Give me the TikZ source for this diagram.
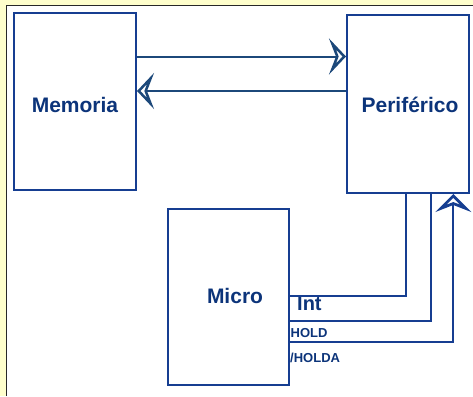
\documentclass[tikz,border=0pt]{standalone}
\usepackage{fontspec}
\setmainfont{Liberation Sans}
\usetikzlibrary{arrows.meta}
\definecolor{boxcol}{RGB}{22,62,145}
\definecolor{arrcol}{RGB}{28,72,122}
\definecolor{txtcol}{RGB}{12,52,122}
\definecolor{bgyel}{RGB}{255,255,204}
\definecolor{framecol}{RGB}{40,40,40}
\tikzset{
  blk/.style={draw=boxcol,line width=2pt,minimum width=#1,inner sep=0pt},
  bigtxt/.style={text=txtcol,font=\fontsize{21}{24}\selectfont\bfseries,inner sep=0pt,anchor=base},
  smalltxt/.style={text=txtcol,font=\fontsize{13}{15}\selectfont\bfseries,inner sep=0pt,anchor=base west},
  bigarr/.style={draw=arrcol,line width=2pt,-{Stealth[open,length=17pt,width=36pt,inset=7pt,line width=3.5pt]}},
  sig/.style={draw=boxcol,line width=2pt},
  sigarr/.style={draw=boxcol,line width=2pt,-{Stealth[open,length=18pt,width=36pt,inset=7pt,line width=3.5pt]}}
}
\begin{document}
\begin{tikzpicture}[x=1pt,y=-1pt]
\useasboundingbox (0,0) rectangle (473,396);
\fill[bgyel] (0,0) rectangle (473,396);
\fill[white] (7,6) rectangle (473,396);
\draw[framecol,line width=1.6pt] (6.5,396) -- (6.5,5.5) -- (473,5.5);
% boxes
\node[blk=122pt,minimum height=177pt] (mem) at (75,101.5) {};
\node[blk=122pt,minimum height=178pt] (per) at (408,104) {};
\node[blk=121pt,minimum height=176pt] (mic) at (228.5,297) {};
% texts
\node[bigtxt] (tmem) at (75,112) {Memoria};
\node[bigtxt] (tper) at (410,112) {Periférico};
\node[bigtxt] (tmic) at (235,303) {Micro};
\node[text=txtcol,font=\fontsize{20}{24}\selectfont\bfseries,inner sep=0pt,anchor=base west] (tint) at (297,310) {Int};
\node[smalltxt] (thold) at (290.5,337) {HOLD};
\node[smalltxt] (tholda) at (290,362) {/HOLDA};
% helper coordinates
\coordinate (y1) at (0,56.5);
\coordinate (y2) at (0,91);
\coordinate (xint) at (405.7,0);
\coordinate (yint) at (0,296);
\coordinate (xhold) at (430.7,0);
\coordinate (yhold) at (0,321);
\coordinate (xholda) at (453.3,0);
\coordinate (yholda) at (0,342);
% data arrows
\draw[bigarr] (mem.east |- y1) -- (per.west |- y1);
\draw[bigarr] (per.west |- y2) -- (mem.east |- y2);
% signals
\draw[sig] (per.south -| xint) -- (xint |- yint) -- (mic.east |- yint);
\draw[sig] (per.south -| xhold) -- (xhold |- yhold) -- (mic.east |- yhold);
\draw[sigarr] (mic.east |- yholda) -- (xholda |- yholda) -- (per.south -| xholda);
\end{tikzpicture}
\end{document}
